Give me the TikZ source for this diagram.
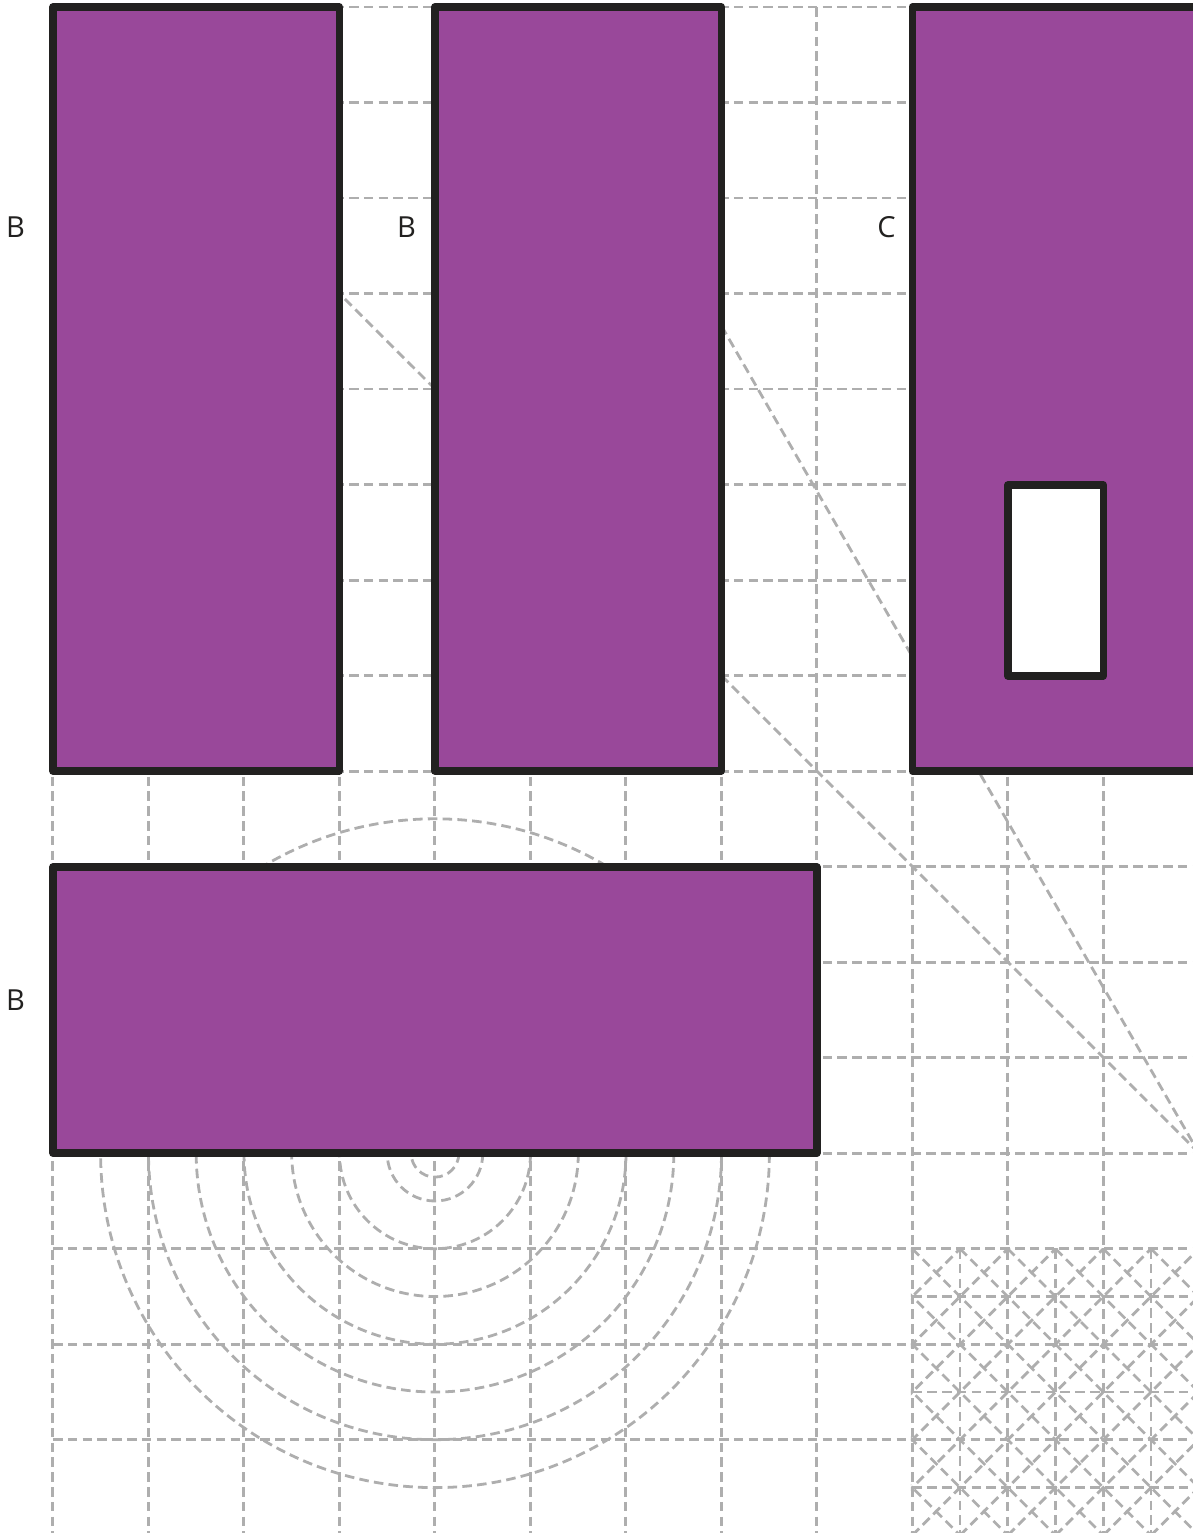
\documentclass[tikz,border=0pt]{standalone}
\usepackage{fontspec}
\setmainfont{Open Sans}
\definecolor{plum}{HTML}{99489A}
\definecolor{ink}{HTML}{222120}
\definecolor{guide}{HTML}{AEAEAE}
\tikzset{
  guideline/.style={draw=guide,line width=2.8pt,dash pattern=on 9.6pt off 5.2pt},
  block/.style={draw=ink,line width=7.5pt,line join=round,fill=plum},
  hole/.style={draw=ink,line width=7.5pt,line join=round,fill=white},
  letter/.style={inner sep=0pt,text=ink,font=\fontsize{29}{29}\selectfont}
}
\begin{document}
\begin{tikzpicture}[x=1pt,y=-1pt]
\useasboundingbox (0,0) rectangle (1193,1533);
\clip (0,0) rectangle (1193,1533);
% base grid
\foreach \k in {0,...,15}{
  \draw[guideline] (53,{7+95.52*\k}) -- (1200,{7+95.52*\k});
  }
\foreach \k in {0,...,12}{
  \draw[guideline] ({52.8+95.5*\k},7) -- ({52.8+95.5*\k},1540);
  }
% concentric circles
\foreach \r in {23.9,47.8,95.5,143.3,191,238.8,286.5,334.4}{
  \draw[guideline] (435,1153.2) circle[radius=\r];
  }
% construction diagonals
\draw[guideline,dash phase=7.2pt] (339.5,293.6) -- (435,389);
\draw[guideline] (721.5,326) -- (1199,1153.2);
\draw[guideline] (721.5,675.6) -- (1199,1153.2);
% fine grid
\foreach \k in {0,...,5}{
  \draw[guideline] ({960.05+95.5*\k},1249) -- ({960.05+95.5*\k},1540);
  \draw[guideline] (912.3,{1296.5+95.52*\k}) -- (1200,{1296.5+95.52*\k});
  }
\begin{scope}
\clip (910.8,1248) rectangle (1193,1533);
\foreach \k in {-7,...,7}{
  \draw[guideline] ({912.3+47.75*\k},1248.8) -- ({912.3+47.75*\k+340},1588.8);
  \draw[guideline] ({912.3+47.75*\k},1535.3) -- ({912.3+47.75*\k+340},1195.3);
  }
\end{scope}
% solid blocks
\draw[block] (53,7) rectangle (339.3,771);
\draw[block] (434.8,7) rectangle (721.3,771);
\draw[block] (912.3,7) rectangle (1210,771);
\draw[block] (53,867) rectangle (816.8,1153.2);
\draw[hole] (1007.8,485) rectangle (1103.3,676);
% labels
\node[letter] (lb1) at (15.5,227) {B};
\node[letter] (lb2) at (406.5,227) {B};
\node[letter] (lc) at (886.5,227) {C};
\node[letter] (lb3) at (15.5,1000) {B};
\end{tikzpicture}
\end{document}
